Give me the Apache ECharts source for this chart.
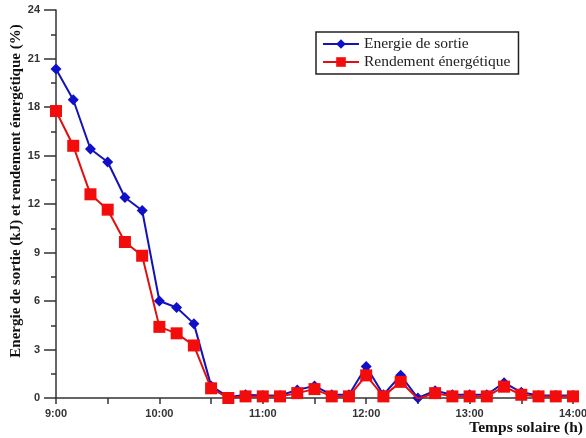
<!DOCTYPE html>
<html>
<head>
<meta charset="utf-8">
<script src="https://cdn.jsdelivr.net/npm/echarts@6/dist/echarts.min.js"></script>
<style>
  html, body { margin: 0; padding: 0; background: #fff; }
  #chart { width: 586px; height: 438px; }
</style>
</head>
<body>
<div id="chart"></div>
<script>
// Solar time, every 10 minutes from 9:00 to 14:00
const times = [
  "9:00","9:10","9:20","9:30","9:40","9:50",
  "10:00","10:10","10:20","10:30","10:40","10:50",
  "11:00","11:10","11:20","11:30","11:40","11:50",
  "12:00","12:10","12:20","12:30","12:40","12:50",
  "13:00","13:10","13:20","13:30","13:40","13:50",
  "14:00"
];

// Output energy (kJ)
const energieSortie = [
  20.35, 18.45, 15.4, 14.6, 12.4, 11.6,
  6.0, 5.6, 4.6, 0.75, 0.05, 0.2,
  0.15, 0.15, 0.5, 0.75, 0.2, 0.2,
  1.95, 0.2, 1.4, 0.0, 0.45, 0.2,
  0.2, 0.2, 0.95, 0.35, 0.15, 0.15,
  0.15
];

// Energy efficiency (%)
const rendementEnergetique = [
  17.75, 15.6, 12.6, 11.65, 9.65, 8.8,
  4.4, 4.0, 3.25, 0.6, 0.0, 0.1,
  0.1, 0.1, 0.3, 0.55, 0.1, 0.1,
  1.4, 0.1, 1.0, -0.05, 0.3, 0.1,
  0.1, 0.1, 0.7, 0.2, 0.1, 0.1,
  0.1
];

const yTicks = { min: 0, max: 24, step: 3 };

const chart = echarts.init(document.getElementById('chart'), null, { renderer: 'canvas' });

const tickFont = { fontFamily: 'Liberation Sans, Arial, sans-serif', fontWeight: 'bold', fontSize: 11, color: '#333' };
const axisLineStyle = { color: '#333', width: 1.5 };

chart.setOption({
  animation: false,
  backgroundColor: '#fff',
  grid: { left: 56, right: 13, top: 10, bottom: 40, containLabel: false, outerBoundsMode: 'none' },
  legend: {
    orient: 'vertical',
    left: 316,
    top: 32,
    padding: [4, 8, 4, 6],
    itemGap: 2,
    itemWidth: 36,
    itemHeight: 12,
    borderColor: '#222',
    borderWidth: 1.5,
    textStyle: { fontFamily: 'Liberation Serif, Times New Roman, serif', fontSize: 15.5, color: '#222' },
    data: ['Energie de sortie', 'Rendement énergétique']
  },
  xAxis: {
    type: 'category',
    data: times,
    boundaryGap: false,
    name: 'Temps solaire (h)',
    nameLocation: 'end',
    nameGap: 10,
    nameMoveOverlap: false,
    nameTextStyle: {
      fontFamily: 'Liberation Serif, Times New Roman, serif',
      fontWeight: 'bold', fontSize: 15.5, color: '#111',
      align: 'right', verticalAlign: 'top',
      padding: [22, 0, 0, 0]
    },
    axisLine: { lineStyle: axisLineStyle },
    axisTick: { show: true, inside: false, length: 6, interval: 2, lineStyle: axisLineStyle },
    axisLabel: Object.assign({ interval: 5, margin: 10 }, tickFont),
    splitLine: { show: false }
  },
  yAxis: {
    type: 'value',
    min: yTicks.min,
    max: yTicks.max,
    interval: yTicks.step,
    name: 'Energie de sortie (kJ) et rendement énergétique (%)',
    nameLocation: 'middle',
    nameGap: 32,
    nameMoveOverlap: false,
    nameTextStyle: {
      fontFamily: 'Liberation Serif, Times New Roman, serif',
      fontWeight: 'bold', fontSize: 15, color: '#111',
      padding: [0, 0, 0, 26]
    },
    axisLine: { show: true, lineStyle: axisLineStyle },
    axisTick: { show: true, length: 12, lineStyle: axisLineStyle },
    minorTick: { show: true, splitNumber: 2, length: 5, lineStyle: axisLineStyle },
    axisLabel: Object.assign({ margin: 16 }, tickFont),
    splitLine: { show: false }
  },
  series: [
    {
      name: 'Energie de sortie',
      type: 'line',
      data: energieSortie,
      symbol: 'diamond',
      symbolSize: 11,
      showAllSymbol: true,
      lineStyle: { color: '#1414b4', width: 2 },
      itemStyle: { color: '#1010c8' },
      z: 2
    },
    {
      name: 'Rendement énergétique',
      type: 'line',
      data: rendementEnergetique,
      symbol: 'rect',
      symbolSize: 12,
      showAllSymbol: true,
      lineStyle: { color: '#e01010', width: 2 },
      itemStyle: { color: '#f20c0c' },
      z: 3
    }
  ]
});
</script>
</body>
</html>
